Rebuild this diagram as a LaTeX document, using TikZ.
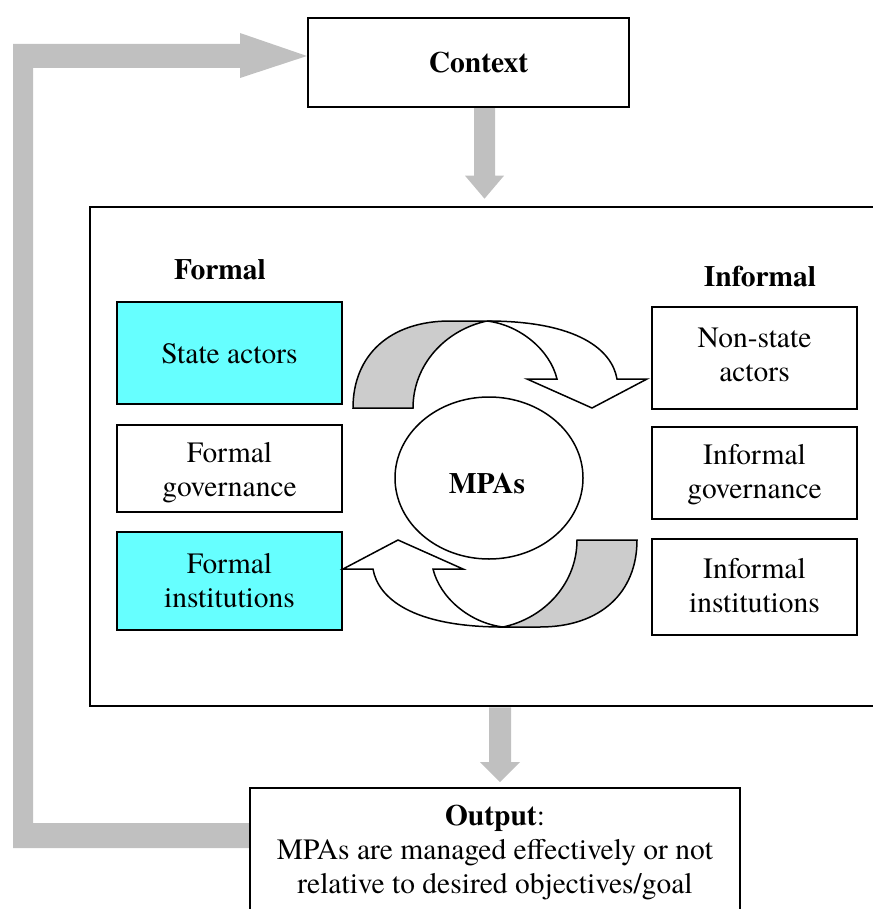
\documentclass[tikz,border=0pt]{standalone}
\usepackage{fontspec}
\setmainfont{TeX Gyre Termes}
\usetikzlibrary{calc,shapes.geometric}

\definecolor{aqua}{HTML}{66FFFF}
\definecolor{flowgray}{HTML}{C0C0C0}
\definecolor{ribbongray}{HTML}{CCCCCC}

\tikzset{
  txt/.style={font=\rmfamily\fontsize{29.5}{34}\selectfont, align=center, inner sep=0pt},
  hdr/.style={txt, font=\rmfamily\fontsize{29.5}{34}\selectfont\bfseries},
  card/.style={draw, line width=1.6pt, inner sep=0pt},
  leftcard/.style={card, minimum width=225},
  rightcard/.style={card, minimum width=205},
  flow/.style={fill=flowgray},
  ribbon/.style={line width=1.5pt, line join=miter},
}

% broad grey arrow pointing down: start, tip, half shaft, half head, head length
\newcommand{\fatdown}[5]{%
  \fill[flow] ($(#1)+(-#3,0)$) -- ($(#2)+(-#3,-#5)$) -- ($(#2)+(-#4,-#5)$) -- (#2)
    -- ($(#2)+(#4,-#5)$) -- ($(#2)+(#3,-#5)$) -- ($(#1)+(#3,0)$) -- cycle;}

% twisted circular arrow (upper one; the lower one is the same turned by 180 degrees)
\newcommand{\turnarrow}{%
  \filldraw[ribbon, fill=ribbongray] (353,408) .. controls (353,355) and (390,321) .. (450,321)
    -- (487,321) .. controls (445,330) and (413,365) .. (413,408) -- cycle;
  \filldraw[ribbon, fill=white] (487,321) .. controls (578,321) and (612,350) .. (617,379)
    -- (647,379) -- (592,408) -- (527,379) -- (557,379)
    .. controls (550,350) and (520,325) .. (487,321) -- cycle;}

\begin{document}
\begin{tikzpicture}[x=1pt,y=-1pt]
\useasboundingbox (0,0) rectangle (872,909);

% context box
\node[draw, line width=2.2pt, minimum width=321, minimum height=89, inner sep=0] (ctx) at (468.5,62.5) {};
\node[hdr] (ctxt) at (478.5,63) {Context};

% governance frame
\node[draw, line width=2.6pt, minimum width=795, minimum height=499, inner sep=0] (frame) at (487.5,456.5) {};
\node[hdr] (fhead) at (220,270) {Formal};
\node[hdr] (ihead) at (760,277) {Informal};

% formal side
\node[leftcard, fill=aqua, minimum height=102] (sa) at (229.5,353) {};
\node[txt] (sat) at (229.5,354) {State actors};
\node[leftcard, minimum height=87] (fg) at (229.5,468.5) {};
\node[txt] (fgt) at (229.5,472.5) {Formal\\governance};
\node[leftcard, fill=aqua, minimum height=98] (fi) at (229.5,581) {};
\node[txt] (fit) at (229.5,580.5) {Formal\\institutions};

% informal side
\node[rightcard, minimum height=102] (ns) at (754.5,358) {};
\node[txt] (nst) at (754.5,355) {Non-state\\actors};
\node[rightcard, minimum height=92] (ig) at (754.5,473) {};
\node[txt] (igt) at (754.5,475) {Informal\\governance};
\node[rightcard, minimum height=96] (ii) at (754.5,587) {};
\node[txt] (iit) at (754.5,585.5) {Informal\\institutions};

% centre
\node[ellipse, draw, line width=1.5pt, minimum width=188, minimum height=162, inner sep=0] (mpa) at (489,478) {};
\node[hdr] (mpat) at (487,484) {MPAs};

\turnarrow
\begin{scope}[rotate around={180:(495,474)}]
  \turnarrow
\end{scope}

% output box
\node[draw, line width=2.4pt, minimum width=490, minimum height=160, inner sep=0, anchor=north] (out) at (495,787) {};
\node[txt] (outt) at (495,852.5) {\textbf{Output}:\\MPAs are managed effectively or not\\relative to desired objectives/goal};

% flow arrows
\coordinate (d1s) at (ctx.south -| 484.5,0);
\coordinate (d1e) at ($(frame.north -| 484.5,0)+(0,-7)$);
\fatdown{d1s}{d1e}{10.5}{19.5}{23}

\coordinate (d2s) at (frame.south -| 500,0);
\coordinate (d2e) at ($(out.north -| 500,0)+(0,-5)$);
\fatdown{d2s}{d2e}{11}{20}{20}

% feedback loop from output back to context
\coordinate (lb) at (out.west |- 0,835.5);
\coordinate (lt) at (ctx.west |- 0,56);
\fill[flow] ($(lb)+(0,12.5)$) -- (13,848) -- (13,44) -- (240,44) -- (240,33) -- (lt)
  -- (240,78) -- (240,68) -- (33,68) -- (33,823) -- ($(lb)+(0,-12.5)$) -- cycle;
\end{tikzpicture}
\end{document}
